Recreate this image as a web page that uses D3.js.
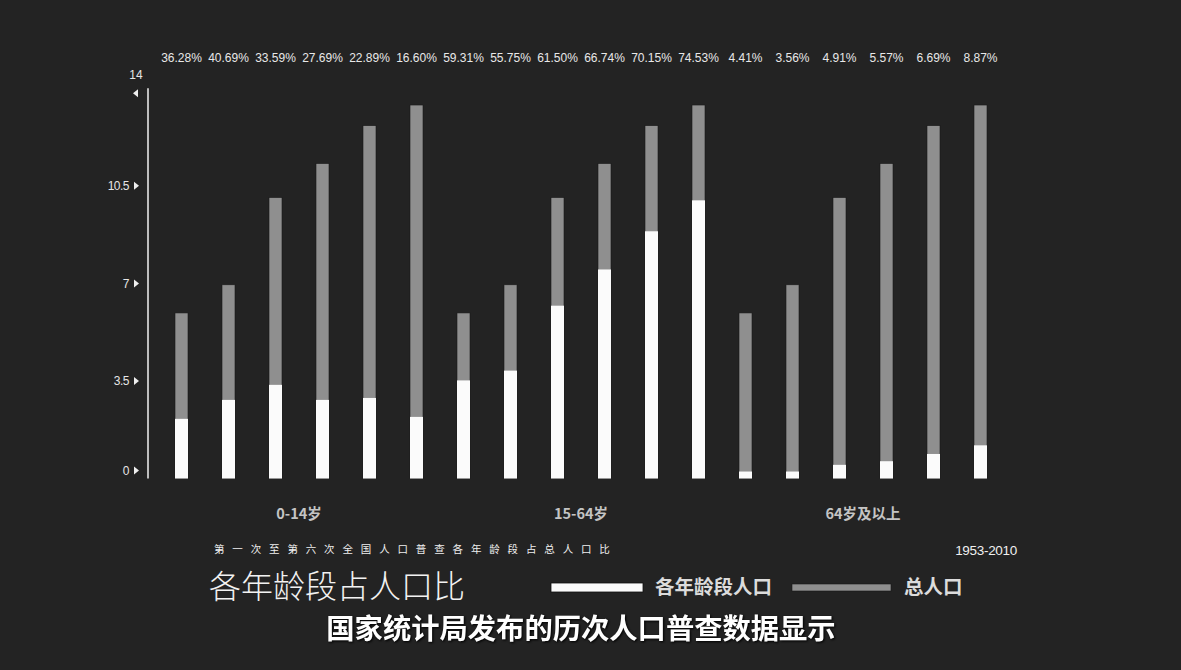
<!DOCTYPE html>
<html>
<head>
<meta charset="utf-8">
<script src="https://cdn.jsdelivr.net/npm/d3@7"></script>
<style>
  html, body { margin: 0; padding: 0; background: #222222; }
  svg { display: block; }
</style>
</head>
<body>
<svg id="chart" width="1181" height="670"></svg>
<script>
// ---- data ----
const groups = ["0-14岁", "15-64岁", "64岁及以上"];
const years = ["1953", "1964", "1982", "1990", "2000", "2010"];
const totalPop = [5.94, 6.95, 10.08, 11.3, 12.66, 13.4];
const agePop0_14 = [2.14, 2.82, 3.36, 2.82, 2.89, 2.21];
const agePop15_64 = [3.52, 3.87, 6.2, 7.5, 8.87, 9.98];
const agePop65 = [0.25, 0.25, 0.49, 0.62, 0.88, 1.19];
const pctLabels = ["36.28%", "40.69%", "33.59%", "27.69%", "22.89%", "16.60%",
                   "59.31%", "55.75%", "61.50%", "66.74%", "70.15%", "74.53%",
                   "4.41%", "3.56%", "4.91%", "5.57%", "6.69%", "8.87%"];
const yTicks = [0, 3.5, 7, 10.5];
const yMax = 14;
const legendLabels = ["各年龄段人口", "总人口"];

// build rows
const ageSeries = [agePop0_14, agePop15_64, agePop65];
const rows = [];
groups.forEach((g, gi) => {
  years.forEach((yr, yi) => {
    rows.push({ key: g + "|" + yr, group: g, year: yr, total: totalPop[yi], age: ageSeries[gi][yi] });
  });
});
rows.forEach((r, i) => r.pct = pctLabels[i]);

const svg = d3.select("#chart");
const W = 1181, H = 670;
svg.append("rect").attr("width", W).attr("height", H).attr("fill", "#232323");

const x = d3.scaleBand().domain(rows.map(r => r.key)).range([151.5, 1010.5]).paddingInner(0.7234).paddingOuter(0.5);
const y = d3.scaleLinear().domain([0, yMax]).range([478.5, 88.3]);

const sans = "'Liberation Sans', Arial, sans-serif";
const cjk = "'Noto Sans CJK SC', 'Noto Sans', sans-serif";

// axis line
svg.append("line").attr("x1", 148).attr("x2", 148).attr("y1", y(yMax)).attr("y2", y(0))
  .attr("stroke", "#f2f2f2").attr("stroke-width", 1.5);

// ticks
const tickG = svg.append("g");
yTicks.forEach(v => {
  const yy = Math.min(y(v), y(0) - 8);
  tickG.append("path").attr("d", `M${134},${yy - 4} L${139},${yy} L${134},${yy + 4} Z`).attr("fill", "#eee");
  tickG.append("text").attr("x", 129).attr("y", yy).attr("dy", "0.35em").attr("text-anchor", "end")
    .attr("fill", "#e6e6e6").attr("font-family", sans).attr("font-size", 12).attr("letter-spacing", "-0.5")
    .text(String(v));
});
// top tick (14)
const yTop = y(yMax) + 5;
tickG.append("path").attr("d", `M${138},${yTop - 4} L${133},${yTop} L${138},${yTop + 4} Z`).attr("fill", "#eee");
tickG.append("text").attr("x", 136).attr("y", y(yMax) - 9).attr("text-anchor", "middle")
  .attr("fill", "#e6e6e6").attr("font-family", sans).attr("font-size", 12).text(String(yMax));

// bars
const bars = svg.append("g");
bars.selectAll("rect.total").data(rows).join("rect").attr("class", "total")
  .attr("x", d => x(d.key)).attr("width", x.bandwidth())
  .attr("y", d => y(d.total)).attr("height", d => y(0) - y(d.total))
  .attr("fill", "#8f8f8f").attr("stroke", "#1a1a1a").attr("stroke-width", 0.6);
bars.selectAll("rect.age").data(rows).join("rect").attr("class", "age")
  .attr("x", d => x(d.key)).attr("width", x.bandwidth())
  .attr("y", d => y(d.age)).attr("height", d => y(0) - y(d.age))
  .attr("fill", "#fbfbfb");

// percentage labels
svg.append("g").selectAll("text").data(rows).join("text")
  .attr("x", d => x(d.key) + x.bandwidth() / 2).attr("y", 62).attr("text-anchor", "middle")
  .attr("fill", "#e8e8e8").attr("font-family", sans).attr("font-size", 12)
  .text(d => d.pct);

// group labels
groups.forEach(g => {
  const keys = rows.filter(r => r.group === g).map(r => r.key);
  const cx = (x(keys[0]) + x(keys[keys.length - 1]) + x.bandwidth()) / 2;
  svg.append("text").attr("x", cx).attr("y", 519).attr("text-anchor", "middle")
    .attr("fill", "#c4c4c4").attr("font-family", cjk).attr("font-weight", "bold").attr("font-size", 14.5)
    .text(g);
});

// subtitle
svg.append("text").attr("x", 214).attr("y", 553)
  .attr("fill", "#f0f0f0").attr("font-family", cjk).attr("font-size", 10.5).attr("letter-spacing", "7.85")
  .text("第一次至第六次全国人口普查各年龄段占总人口比");
svg.append("text").attr("x", 1017).attr("y", 555).attr("text-anchor", "end")
  .attr("fill", "#f0f0f0").attr("font-family", sans).attr("font-size", 13.5).attr("letter-spacing", "-0.3")
  .text(years[0] + "-" + years[years.length - 1]);

// title
svg.append("text").attr("x", 209).attr("y", 598)
  .attr("fill", "#f2f2f2").attr("font-family", cjk).attr("font-weight", 300).attr("font-size", 32)
  .text("各年龄段占人口比");

// legend
const lg = svg.append("g");
lg.append("rect").attr("x", 551).attr("y", 583).attr("width", 92).attr("height", 9)
  .attr("fill", "#fbfbfb").attr("stroke", "#111").attr("stroke-width", 0.8);
lg.append("text").attr("x", 655).attr("y", 594).attr("fill", "#dcdcdc").attr("font-family", cjk)
  .attr("font-weight", "bold").attr("font-size", 19.5).text(legendLabels[0]);
lg.append("rect").attr("x", 792).attr("y", 584).attr("width", 99).attr("height", 7)
  .attr("fill", "#8f8f8f").attr("stroke", "#1a1a1a").attr("stroke-width", 0.6);
lg.append("text").attr("x", 904).attr("y", 594).attr("fill", "#dcdcdc").attr("font-family", cjk)
  .attr("font-weight", "bold").attr("font-size", 19.5).text(legendLabels[1]);

// bottom caption
svg.append("text").attr("x", 581).attr("y", 639).attr("text-anchor", "middle")
  .attr("fill", "#ffffff").attr("font-family", cjk).attr("font-weight", "bold").attr("font-size", 28.3)
  .style("filter", "drop-shadow(1px 1px 1px #000)")
  .text("国家统计局发布的历次人口普查数据显示");
</script>
</body>
</html>
